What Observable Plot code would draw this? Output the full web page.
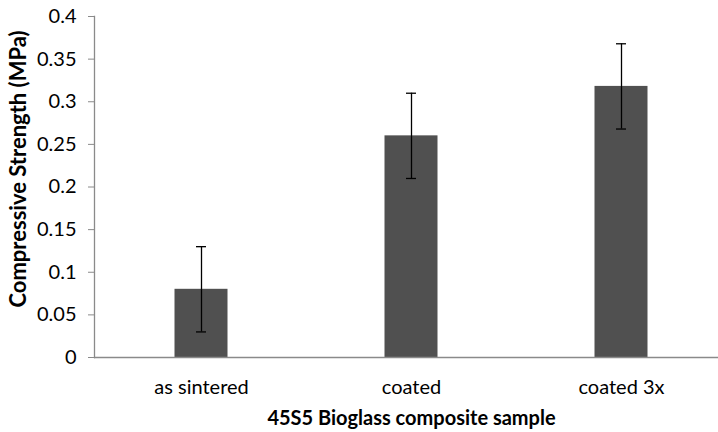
<!DOCTYPE html>
<html>
<head>
<meta charset="utf-8">
<script src="https://cdn.jsdelivr.net/npm/d3@7"></script>
<script src="https://cdn.jsdelivr.net/npm/@observablehq/plot@0.6"></script>
<style>
  html, body { margin: 0; padding: 0; background: #fff; }
  #chart svg { display: block; }
</style>
</head>
<body>
<div id="chart"></div>
<script>
const categories = ["as sintered", "coated", "coated 3x"];
const strength = [0.080, 0.260, 0.318];
const errors = [0.050, 0.050, 0.050];
const yTicks = [0, 0.05, 0.1, 0.15, 0.2, 0.25, 0.3, 0.35, 0.4];
const yTitle = "Compressive Strength (MPa)";
const xTitle = "45S5 Bioglass composite sample";

const data = categories.map((c, i) => ({
  cat: c, v: strength[i], lo: strength[i] - errors[i], hi: strength[i] + errors[i]
}));

const font = "Lato, 'Open Sans', sans-serif";

const chart = Plot.plot({
  width: 718,
  height: 432,
  marginLeft: 94,
  marginRight: 0,
  marginTop: 16,
  marginBottom: 75,
  style: { fontFamily: font, fontSize: "20px", color: "#000", background: "#fff" },
  x: { domain: categories, range: [96, 726], padding: 0 },
  y: { domain: [0, 0.4], ticks: yTicks },
  marks: [
    Plot.barY(data, { x: "cat", y: "v", fill: "#505050", insetLeft: 78.5, insetRight: 78.5 }),
    Plot.frame({ anchor: "left", stroke: "#8a8a8a", strokeWidth: 1.3 }),
    Plot.ruleY([0], { stroke: "#8a8a8a", strokeWidth: 1.3 }),
    Plot.ruleX(data, { x: "cat", y1: "lo", y2: "hi", stroke: "#000", strokeWidth: 1.3 }),
    Plot.tickY(data, { x: "cat", y: "hi", stroke: "#000", strokeWidth: 1.3, insetLeft: 100, insetRight: 100 }),
    Plot.tickY(data, { x: "cat", y: "lo", stroke: "#000", strokeWidth: 1.3, insetLeft: 100, insetRight: 100 }),
    Plot.axisY({ ticks: yTicks, tickSize: 6, tickPadding: 12, stroke: "#8a8a8a", fill: "#000", label: null,
                 tickFormat: d => String(+d.toFixed(2)), fontSize: 20 }),
    Plot.axisX({ tickSize: 0, tickPadding: 22, label: null, fill: "#000", fontSize: 20 }),
    Plot.text([yTitle], { frameAnchor: "left", textAnchor: "middle", rotate: -90, dx: -76, dy: -18,
                          fontWeight: "bold", fontSize: 22, fill: "#000" }),
    Plot.text([xTitle], { frameAnchor: "bottom", textAnchor: "middle", dy: 67, dx: 5,
                          fontWeight: "bold", fontSize: 20, fill: "#000" })
  ]
});

document.getElementById("chart").appendChild(chart);
</script>
</body>
</html>
